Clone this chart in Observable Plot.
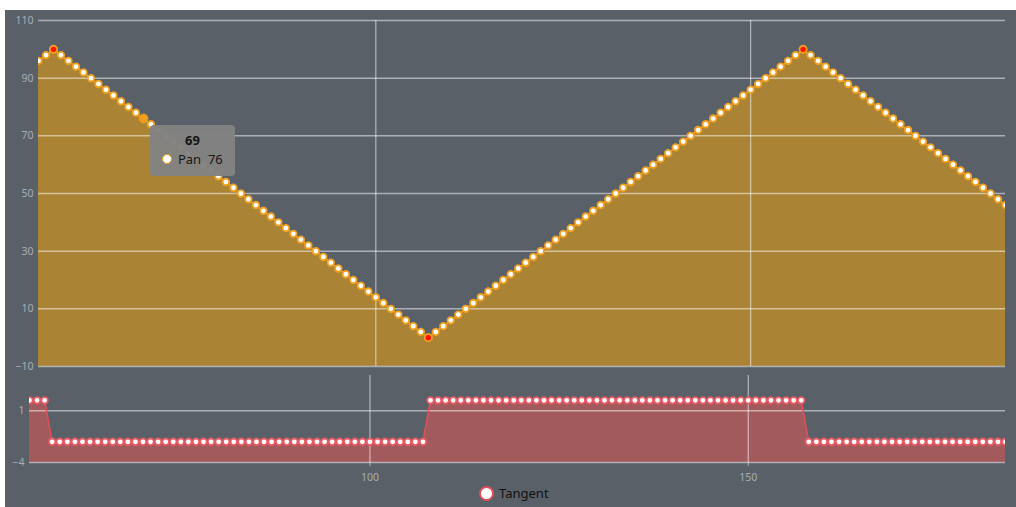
<!DOCTYPE html>
<html>
<head>
<meta charset="utf-8">
<script src="https://cdn.jsdelivr.net/npm/d3@7"></script>
<script src="https://cdn.jsdelivr.net/npm/@observablehq/plot@0.6"></script>
<style>
  html, body { margin: 0; padding: 0; background: #ffffff; width: 1016px; height: 507px; overflow: hidden; }
  #panel { position: absolute; left: 5px; top: 10px; width: 1011px; height: 497px; background: #596068; font-family: "Noto Sans", "Open Sans", sans-serif; }
  #top, #bottom { position: absolute; left: 0; }
  #top { top: 0; }
  #bottom { top: 355px; }
  #tooltip { position: absolute; background: rgba(130,130,130,0.97); border-radius: 4px; width: 85px; height: 51px; color: #161616; font-size: 13px; }
  #tooltip .t { position: absolute; left: 0; width: 100%; top: 6px; text-align: center; font-weight: bold; }
  #tooltip .r { position: absolute; left: 12px; top: 25px; display: flex; align-items: center; }
  #tooltip .c { width: 8px; height: 8px; border-radius: 50%; background: #fff; border: 1.5px solid #f0a020; margin-right: 6px; }
  #legend { position: absolute; top: 474px; display: flex; align-items: center; font-size: 13px; color: #111; }
  #legend .c { width: 11px; height: 11px; border-radius: 50%; background: #fff; border: 2px solid #e0505a; margin-right: 5px; }
</style>
</head>
<body>
<div id="panel">
  <div id="top"></div>
  <div id="bottom"></div>
</div>
<script>
// ---- data ----
const xValues = [55,56,57,58,59,60,61,62,63,64,65,66,67,68,69,70,71,72,73,74,75,76,77,78,79,80,81,82,83,84,85,86,87,88,89,90,91,92,93,94,95,96,97,98,99,100,101,102,103,104,105,106,107,108,109,110,111,112,113,114,115,116,117,118,119,120,121,122,123,124,125,126,127,128,129,130,131,132,133,134,135,136,137,138,139,140,141,142,143,144,145,146,147,148,149,150,151,152,153,154,155,156,157,158,159,160,161,162,163,164,165,166,167,168,169,170,171,172,173,174,175,176,177,178,179,180,181,182,183,184];
const panValues = [96,98,100,98,96,94,92,90,88,86,84,82,80,78,76,74,72,70,68,66,64,62,60,58,56,54,52,50,48,46,44,42,40,38,36,34,32,30,28,26,24,22,20,18,16,14,12,10,8,6,4,2,0,2,4,6,8,10,12,14,16,18,20,22,24,26,28,30,32,34,36,38,40,42,44,46,48,50,52,54,56,58,60,62,64,66,68,70,72,74,76,78,80,82,84,86,88,90,92,94,96,98,100,98,96,94,92,90,88,86,84,82,80,78,76,74,72,70,68,66,64,62,60,58,56,54,52,50,48,46];
const tangentValues = [
  2,2,2,
  -2,-2,-2,-2,-2,-2,-2,-2,-2,-2,
  -2,-2,-2,-2,-2,-2,-2,-2,-2,-2,
  -2,-2,-2,-2,-2,-2,-2,-2,-2,-2,
  -2,-2,-2,-2,-2,-2,-2,-2,-2,-2,
  -2,-2,-2,-2,-2,-2,-2,-2,-2,-2,
  2,2,2,2,2,2,2,2,2,2,
  2,2,2,2,2,2,2,2,2,2,
  2,2,2,2,2,2,2,2,2,2,
  2,2,2,2,2,2,2,2,2,2,
  2,2,2,2,2,2,2,2,2,2,
  -2,-2,-2,-2,-2,-2,-2,-2,-2,-2,
  -2,-2,-2,-2,-2,-2,-2,-2,-2,-2,
  -2,-2,-2,-2,-2,-2,-2
];
const extremaX = [57, 107, 157];
const hoverX = 69;
const topYTicks = [-10, 10, 30, 50, 70, 90, 110];
const topYDomain = [-10, 110];
const bottomYTicks = [-4, 1];
const bottomYDomain = [-4, 4.4];
const xTicks = [100, 150];
const xDomain = [55, 184];
const panName = "Pan";
const tangentName = "Tangent";

const pan = xValues.map((x, i) => ({x, v: panValues[i]}));
const tan = xValues.map((x, i) => ({x, v: tangentValues[i]}));

const axisColor = "#a9aeb4";
const font = '"Noto Sans", "Open Sans", sans-serif';

const topChart = Plot.plot({
  width: 1011, height: 362,
  marginLeft: 33, marginRight: 11, marginTop: 10, marginBottom: 6,
  style: {background: "transparent", color: axisColor, fontFamily: font, fontSize: "10.5px"},
  x: {domain: xDomain, axis: null},
  y: {domain: topYDomain, ticks: topYTicks, tickSize: 0, tickPadding: 5, label: null},
  marks: [
    Plot.areaY(pan, {x: "x", y1: () => topYDomain[0], y2: "v", fill: "#ab8334"}),
    Plot.ruleY(topYTicks, {stroke: "#ffffff", strokeOpacity: 0.5, strokeWidth: 1.5}),
    Plot.ruleX(xTicks, {stroke: "#ffffff", strokeOpacity: 0.55, strokeWidth: 1.2}),
    Plot.line(pan, {x: "x", y: "v", stroke: "#f0a020", strokeWidth: 1.5, clip: true}),
    Plot.dot(pan, {x: "x", y: "v", r: 3.3, fill: "#ffffff", stroke: "#f0a020", strokeWidth: 1.8, clip: true}),
    Plot.dot(pan.filter(d => extremaX.includes(d.x)), {x: "x", y: "v", r: 3.6, fill: "#ff1000", stroke: "#f0a020", strokeWidth: 1.8, clip: true}),
    Plot.dot(pan.filter(d => d.x === hoverX), {x: "x", y: "v", r: 4.6, fill: "#f0a020", stroke: "#e09018", strokeWidth: 1, clip: true})
  ]
});
document.getElementById("top").appendChild(topChart);

const bottomChart = Plot.plot({
  width: 1011, height: 142,
  marginLeft: 24, marginRight: 11, marginTop: 10, marginBottom: 45,
  style: {background: "transparent", color: axisColor, fontFamily: font, fontSize: "10.5px"},
  x: {domain: xDomain, ticks: xTicks, tickSize: 4, tickPadding: 7, label: null},
  y: {domain: bottomYDomain, ticks: bottomYTicks, tickSize: 0, tickPadding: 5, label: null},
  marks: [
    Plot.areaY(tan, {x: "x", y1: () => bottomYDomain[0], y2: "v", fill: "#a35a5c"}),
    Plot.ruleY(bottomYTicks, {stroke: "#ffffff", strokeOpacity: 0.5, strokeWidth: 1.5}),
    Plot.ruleX(xTicks, {stroke: "#ffffff", strokeOpacity: 0.55, strokeWidth: 1.2}),
    Plot.line(tan, {x: "x", y: "v", stroke: "#e05058", strokeWidth: 1.5, clip: true}),
    Plot.dot(tan, {x: "x", y: "v", r: 3.3, fill: "#ffffff", stroke: "#e85a64", strokeWidth: 1.8, clip: true})
  ]
});
document.getElementById("bottom").appendChild(bottomChart);

// tooltip positioned through the top chart's scales
const sx = topChart.scale("x"), sy = topChart.scale("y");
const hv = pan.find(d => d.x === hoverX);
const tip = document.createElement("div");
tip.id = "tooltip";
tip.innerHTML = `<div class="t">${hv.x}</div><div class="r"><div class="c"></div><span>${panName}&nbsp;&nbsp;${hv.v}</span></div>`;
tip.style.left = (sx.apply(hv.x) + 7) + "px";
tip.style.top = (sy.apply(hv.v) + 7) + "px";
document.getElementById("panel").appendChild(tip);

// legend, centred under the bottom plot
const bx = bottomChart.scale("x");
const leg = document.createElement("div");
leg.id = "legend";
leg.innerHTML = `<div class="c"></div><span>${tangentName}</span>`;
document.getElementById("panel").appendChild(leg);
leg.style.left = ((bx.apply(xDomain[0]) + bx.apply(xDomain[1])) / 2 - leg.offsetWidth / 2 - 3) + "px";
</script>
</body>
</html>
